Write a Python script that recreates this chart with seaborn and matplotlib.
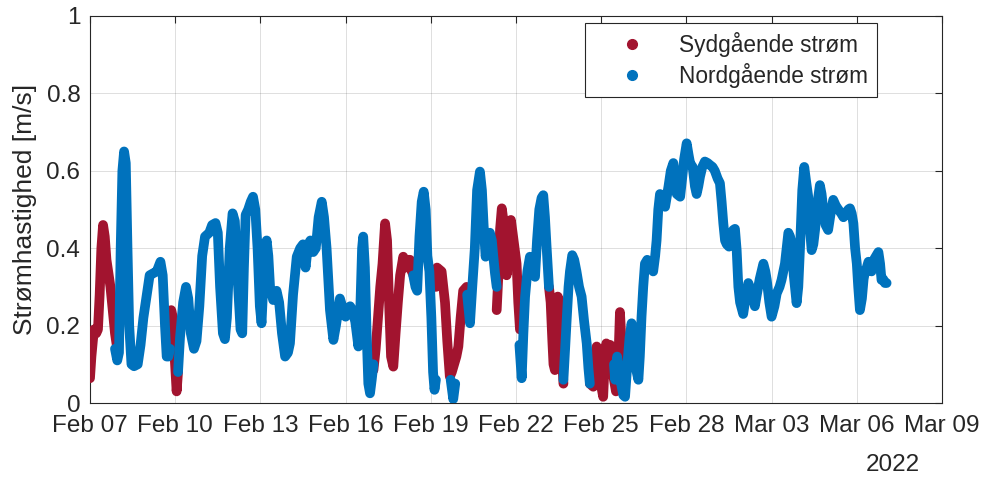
import numpy as np
import pandas as pd
import matplotlib
matplotlib.use("Agg")
import matplotlib.pyplot as plt
import matplotlib.dates as mdates
from matplotlib.lines import Line2D
import seaborn as sns

# Measurement start; time given in days since this moment
start = pd.Timestamp("2022-02-07")

# Southgoing current: (day, speed m/s); gaps > 0.2 days split the trace
syd = np.array([
    (0.00, 0.064), (0.05, 0.12), (0.10, 0.16), (0.14, 0.19), (0.22, 0.18), (0.28, 0.19),
    (0.34, 0.28), (0.40, 0.40), (0.46, 0.46), (0.52, 0.43), (0.58, 0.37), (0.64, 0.34),
    (0.72, 0.30), (0.80, 0.24), (0.88, 0.18), (0.94, 0.15),
    (2.80, 0.14), (2.86, 0.24), (2.92, 0.22), (2.98, 0.12), (3.05, 0.03), (3.10, 0.08),
    (9.98, 0.085), (10.06, 0.14), (10.14, 0.22), (10.22, 0.30), (10.30, 0.36), (10.39, 0.464),
    (10.46, 0.42), (10.52, 0.28), (10.60, 0.12), (10.68, 0.094), (10.76, 0.18), (10.84, 0.26),
    (10.92, 0.33), (11.03, 0.378), (11.12, 0.35), (11.20, 0.37), (11.27, 0.37), (11.33, 0.34),
    (11.39, 0.33),
    (12.18, 0.30), (12.22, 0.35), (12.30, 0.345), (12.38, 0.34), (12.44, 0.30), (12.50, 0.26),
    (12.58, 0.16), (12.67, 0.068), (12.74, 0.08), (12.82, 0.10), (12.90, 0.12), (12.97, 0.146),
    (13.05, 0.22), (13.14, 0.29), (13.26, 0.30), (13.30, 0.28),
    (14.32, 0.24), (14.38, 0.33), (14.44, 0.45), (14.50, 0.503), (14.56, 0.47), (14.62, 0.40),
    (14.67, 0.33), (14.72, 0.40), (14.78, 0.45), (14.82, 0.473), (14.88, 0.44), (14.95, 0.40),
    (15.02, 0.36), (15.08, 0.26), (15.14, 0.19),
    (16.16, 0.30), (16.22, 0.26), (16.28, 0.16), (16.32, 0.10), (16.37, 0.085), (16.42, 0.17),
    (16.47, 0.275), (16.55, 0.26), (16.60, 0.15), (16.67, 0.05),
    (17.60, 0.05), (17.72, 0.042), (17.78, 0.10), (17.84, 0.146), (17.90, 0.10), (17.96, 0.06),
    (18.07, 0.016), (18.13, 0.12), (18.18, 0.154), (18.25, 0.10), (18.32, 0.15), (18.38, 0.10),
    (18.43, 0.068), (18.52, 0.03), (18.60, 0.10), (18.66, 0.235), (18.70, 0.18), (18.74, 0.12),
])

# Northgoing current: (day, speed m/s)
nord = np.array([
    (0.88, 0.14), (0.96, 0.11), (1.02, 0.13), (1.08, 0.40), (1.14, 0.60), (1.20, 0.65),
    (1.26, 0.62), (1.32, 0.40), (1.38, 0.20), (1.46, 0.10), (1.55, 0.095), (1.68, 0.10),
    (1.78, 0.15), (1.88, 0.22), (1.98, 0.27), (2.10, 0.33), (2.22, 0.335), (2.35, 0.34),
    (2.48, 0.365), (2.56, 0.33), (2.64, 0.20), (2.70, 0.12), (2.76, 0.12), (2.82, 0.14),
    (3.10, 0.08), (3.17, 0.17), (3.28, 0.26), (3.38, 0.30), (3.46, 0.27), (3.55, 0.18),
    (3.66, 0.14), (3.75, 0.16), (3.85, 0.25), (3.95, 0.38), (4.05, 0.43), (4.20, 0.44),
    (4.30, 0.46), (4.42, 0.465), (4.50, 0.44), (4.58, 0.30), (4.68, 0.18), (4.75, 0.165),
    (4.82, 0.22), (4.92, 0.40), (5.02, 0.49), (5.10, 0.47), (5.20, 0.32), (5.30, 0.19),
    (5.36, 0.18), (5.42, 0.35), (5.48, 0.486), (5.57, 0.50), (5.66, 0.52), (5.74, 0.533),
    (5.82, 0.50), (5.90, 0.40), (5.98, 0.25), (6.04, 0.206), (6.10, 0.30), (6.17, 0.40),
    (6.22, 0.42), (6.28, 0.38), (6.34, 0.30), (6.45, 0.266), (6.57, 0.29), (6.66, 0.26),
    (6.76, 0.18), (6.87, 0.12), (6.97, 0.13), (7.04, 0.154), (7.15, 0.28), (7.28, 0.378),
    (7.40, 0.40), (7.50, 0.41), (7.59, 0.35), (7.68, 0.41), (7.76, 0.42), (7.86, 0.39),
    (7.95, 0.40), (8.05, 0.48), (8.16, 0.52), (8.24, 0.48), (8.33, 0.40), (8.45, 0.24),
    (8.57, 0.163), (8.66, 0.20), (8.80, 0.27), (8.90, 0.245), (9.00, 0.223), (9.08, 0.24),
    (9.16, 0.25), (9.24, 0.24), (9.34, 0.21), (9.45, 0.146), (9.52, 0.25), (9.58, 0.40),
    (9.62, 0.43), (9.68, 0.35), (9.74, 0.18), (9.80, 0.05), (9.86, 0.025), (9.92, 0.06),
    (9.98, 0.10),
    (11.38, 0.33), (11.46, 0.30), (11.52, 0.29), (11.60, 0.43), (11.68, 0.52), (11.75, 0.546),
    (11.82, 0.50), (11.88, 0.38), (11.95, 0.34), (12.02, 0.22), (12.08, 0.08), (12.13, 0.034),
    (12.18, 0.06),
    (12.70, 0.06), (12.79, 0.01), (12.86, 0.05),
    (13.28, 0.28), (13.38, 0.206), (13.46, 0.30), (13.55, 0.40), (13.63, 0.55), (13.73, 0.598),
    (13.80, 0.55), (13.86, 0.46), (13.93, 0.378), (14.00, 0.41), (14.08, 0.44), (14.15, 0.42),
    (14.20, 0.38), (14.26, 0.335), (14.32, 0.30),
    (15.12, 0.15), (15.20, 0.064), (15.26, 0.18), (15.32, 0.275), (15.40, 0.34), (15.49, 0.378),
    (15.58, 0.36), (15.67, 0.326), (15.74, 0.42), (15.82, 0.50), (15.90, 0.53), (15.96, 0.537),
    (16.02, 0.48), (16.08, 0.40), (16.16, 0.30),
    (16.67, 0.06), (16.73, 0.14), (16.79, 0.223), (16.85, 0.30), (16.90, 0.34), (16.98, 0.382),
    (17.05, 0.37), (17.13, 0.34), (17.22, 0.30), (17.31, 0.275), (17.40, 0.21), (17.49, 0.154),
    (17.55, 0.09), (17.60, 0.05),
    (18.45, 0.10), (18.49, 0.06), (18.56, 0.12), (18.62, 0.09), (18.70, 0.05), (18.78, 0.02),
    (18.84, 0.016), (18.92, 0.10), (19.00, 0.17), (19.07, 0.206), (19.14, 0.16), (19.22, 0.09),
    (19.31, 0.06), (19.36, 0.12), (19.42, 0.223), (19.48, 0.30), (19.54, 0.36), (19.62, 0.37),
    (19.72, 0.365), (19.83, 0.34), (19.90, 0.38), (19.95, 0.42), (20.01, 0.50), (20.07, 0.54),
    (20.16, 0.53), (20.25, 0.507), (20.37, 0.56), (20.45, 0.60), (20.54, 0.62), (20.60, 0.58),
    (20.66, 0.54), (20.78, 0.533), (20.85, 0.58), (20.92, 0.63), (21.01, 0.671), (21.08, 0.64),
    (21.13, 0.62), (21.22, 0.61), (21.30, 0.56), (21.36, 0.54), (21.42, 0.56), (21.48, 0.585),
    (21.56, 0.61), (21.65, 0.624), (21.75, 0.62), (21.83, 0.615), (21.92, 0.61), (22.00, 0.60),
    (22.10, 0.58), (22.18, 0.568), (22.24, 0.52), (22.30, 0.464), (22.36, 0.42), (22.42, 0.41),
    (22.50, 0.404), (22.58, 0.43), (22.65, 0.447), (22.71, 0.45), (22.77, 0.395), (22.83, 0.30),
    (22.89, 0.26), (23.00, 0.23), (23.10, 0.28), (23.18, 0.31), (23.28, 0.29), (23.35, 0.27),
    (23.41, 0.25), (23.48, 0.28), (23.58, 0.32), (23.71, 0.36), (23.78, 0.34), (23.83, 0.318),
    (23.92, 0.26), (24.00, 0.223), (24.10, 0.25), (24.18, 0.283), (24.28, 0.30), (24.35, 0.318),
    (24.47, 0.36), (24.53, 0.40), (24.59, 0.44), (24.65, 0.43), (24.71, 0.41), (24.78, 0.33),
    (24.88, 0.258), (24.94, 0.30), (25.00, 0.40), (25.08, 0.55), (25.15, 0.61), (25.22, 0.57),
    (25.29, 0.533), (25.35, 0.45), (25.41, 0.395), (25.47, 0.41), (25.53, 0.447), (25.62, 0.52),
    (25.70, 0.563), (25.76, 0.54), (25.82, 0.50), (25.90, 0.46), (25.99, 0.447), (26.08, 0.49),
    (26.17, 0.525), (26.26, 0.51), (26.35, 0.50), (26.45, 0.49), (26.53, 0.48), (26.62, 0.49),
    (26.70, 0.50), (26.76, 0.503), (26.82, 0.49), (26.88, 0.464), (26.94, 0.40), (27.00, 0.36),
    (27.05, 0.30), (27.11, 0.24), (27.18, 0.27), (27.24, 0.32), (27.29, 0.34), (27.35, 0.35),
    (27.41, 0.365), (27.47, 0.35), (27.52, 0.34), (27.60, 0.37), (27.68, 0.38), (27.76, 0.39),
    (27.82, 0.36), (27.87, 0.318), (27.93, 0.32), (27.99, 0.31), (28.05, 0.31),
])

labels = ["Sydgående strøm", "Nordgående strøm"]
tick_days = [0, 3, 6, 9, 12, 15, 18, 21, 24, 27, 30]
y_ticks = [0, 0.2, 0.4, 0.6, 0.8, 1.0]
y_ticklabels = ["0", "0.2", "0.4", "0.6", "0.8", "1"]

RED = "#A2142F"
BLUE = "#0072BD"
INK = "#262626"


def to_frame(arr):
    days, speed = arr[:, 0], arr[:, 1]
    seg = np.concatenate([[0], np.cumsum(np.diff(days) > 0.2)])
    return pd.DataFrame({"tid": start + pd.to_timedelta(days, unit="D"),
                         "fart": speed, "seg": seg})


sns.set_style("white")
plt.rcParams["font.family"] = ["Liberation Sans", "DejaVu Sans"]

fig = plt.figure(figsize=(9.91, 4.80), dpi=100)
ax = fig.add_axes([90 / 991, 77 / 480, 852 / 991, 387 / 480])

line_kw = dict(x="tid", y="fart", units="seg", estimator=None, sort=False,
               lw=7.0, solid_capstyle="round", solid_joinstyle="round",
               legend=False, ax=ax)
sns.lineplot(data=to_frame(syd), color=RED, zorder=3, **line_kw)
sns.lineplot(data=to_frame(nord), color=BLUE, zorder=4, **line_kw)

ax.set_xlim(start, start + pd.Timedelta(days=30))
ax.set_ylim(0, 1)
ax.set_xticks([start + pd.Timedelta(days=k) for k in tick_days])
ax.xaxis.set_major_formatter(mdates.DateFormatter("%b %d"))
ax.set_yticks(y_ticks)
ax.set_yticklabels(y_ticklabels)
ax.set_xlabel("")
ax.set_ylabel("Strømhastighed [m/s]", fontsize=19, color=INK)
ax.yaxis.set_label_coords(-0.062, 0.5)

ax.grid(True, color=INK, alpha=0.15, lw=0.7)
ax.set_axisbelow(True)
for sp in ax.spines.values():
    sp.set_visible(True)
    sp.set_color(INK)
    sp.set_linewidth(0.8)
ax.tick_params(axis="both", which="major", direction="in", length=5, width=0.8,
               colors=INK, labelsize=17.5, top=True, right=True)
ax.tick_params(axis="x", pad=9)
ax.tick_params(axis="y", pad=7)

ax.text(0.9425, -0.16, "2022", transform=ax.transAxes, ha="center", va="center",
        fontsize=17.5, color=INK)

handles = [Line2D([], [], ls="none", marker="o", ms=7, color=RED),
           Line2D([], [], ls="none", marker="o", ms=7, color=BLUE)]
leg = ax.legend(handles, labels, loc="upper right", bbox_to_anchor=(0.9237, 0.982),
                frameon=True, fancybox=False, framealpha=1, edgecolor=INK,
                fontsize=16.3, handlelength=3.45, handletextpad=0.35,
                borderpad=0.38, labelspacing=0.28, borderaxespad=0)
leg.get_frame().set_linewidth(0.8)
for t in leg.get_texts():
    t.set_color(INK)

fig.savefig("out.png", dpi=100)
